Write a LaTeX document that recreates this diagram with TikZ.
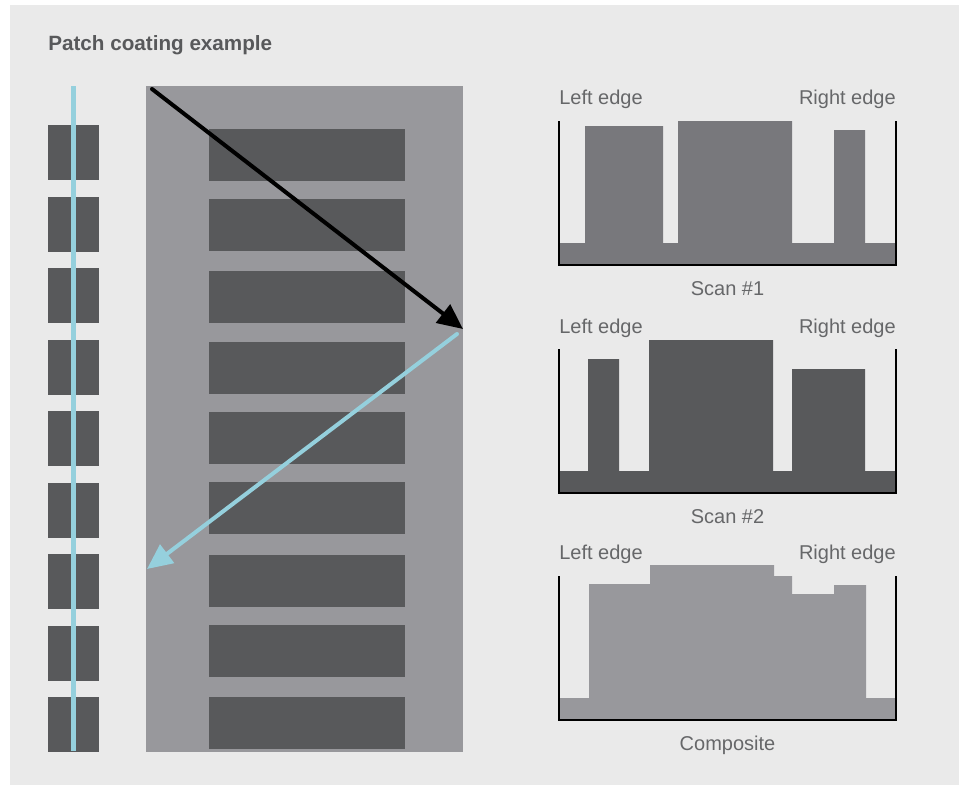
\documentclass[tikz,border=0pt]{standalone}
\usepackage{fontspec}
\setmainfont{Liberation Sans}
\usepackage{tikz}
\usetikzlibrary{arrows.meta,positioning}
\definecolor{pagegray}{HTML}{EAEAEA}
\definecolor{webgray}{HTML}{98989C}
\definecolor{patchdark}{HTML}{58595B}
\definecolor{scanmid}{HTML}{78787C}
\definecolor{lanecyan}{HTML}{95D0DD}
\definecolor{labelgray}{HTML}{666769}

\begin{document}
\begin{tikzpicture}[x=0.75pt, y=-0.75pt,
  label/.style={font=\fontsize{15}{18}\selectfont, text=labelgray, inner sep=0pt},
  axis/.style={draw=black, line width=1pt},
  travel/.style={line width=3pt, -{Triangle[length=19pt,width=17pt]}}]

  \useasboundingbox (0,0) rectangle (959,785);
  \fill[pagegray] (10,5) rectangle (959,785);

  \node[anchor=base west, inner sep=0pt, text=patchdark,
        font=\fontsize{15.5}{18}\selectfont\bfseries] (title) at (48,50)
    {Patch coating example};

  % left strip of patches with the lane line
  \foreach \t in {125,196.5,268,339.5,411,482.5,554,625.5,697}
    \fill[patchdark] (48,\t) rectangle (99,\t+55);
  \draw[lanecyan, line width=3.8pt] (73.5,86) -- (73.5,751);

  % coated web
  \fill[webgray] (146,86) coordinate (webNW) rectangle (463,752) coordinate (webSE);
  \foreach \t in {129,199,271,342,412,482,555,625,697}
    \fill[patchdark] (209,\t) rectangle (405,\t+52);

  \coordinate (scanstart) at (152,89);
  \coordinate (scanturn)  at (463,329);
  \coordinate (backstart) at (457,334);
  \coordinate (backend)   at (147,569);
  \draw[travel, black, line cap=round] (scanstart) -- (scanturn);
  \draw[travel, lanecyan, line cap=round] (backstart) -- (backend);

  % Scan #1
  \fill[scanmid] (559,265) -- (559,243) -- (585,243) -- (585,126) -- (663,126)
    -- (663,243) -- (678,243) -- (678,121) -- (792,121) -- (792,243) -- (834,243)
    -- (834,130) -- (865,130) -- (865,243) -- (896,243) -- (896,265) -- cycle;
  \draw[axis] (559,121) -- (559,265) -- (896,265) -- (896,121);
  \node[label, anchor=base west] (left1) at (559,104) {Left edge};
  \node[label, anchor=base east] (right1) at (896,104) {Right edge};
  \node[label, anchor=base] (scan1) at (727.5,295) {Scan \#1};

  % Scan #2
  \fill[patchdark] (559,493) -- (559,471) -- (588,471) -- (588,359) -- (619,359)
    -- (619,471) -- (649,471) -- (649,340) -- (773,340) -- (773,471) -- (792,471)
    -- (792,369) -- (865,369) -- (865,471) -- (896,471) -- (896,493) -- cycle;
  \draw[axis] (559,349) -- (559,493) -- (896,493) -- (896,349);
  \node[label, anchor=base west] (left2) at (559,333) {Left edge};
  \node[label, anchor=base east] (right2) at (896,333) {Right edge};
  \node[label, anchor=base] (scan2) at (727.5,523) {Scan \#2};

  % Composite
  \fill[webgray] (559,720) -- (559,698) -- (589,698) -- (589,584) -- (650,584)
    -- (650,565) -- (774,565) -- (774,576) -- (792,576) -- (792,594) -- (834,594)
    -- (834,585) -- (866,585) -- (866,698) -- (896,698) -- (896,720) -- cycle;
  \draw[axis] (559,576) -- (559,720) -- (896,720) -- (896,576);
  \node[label, anchor=base west] (left3) at (559,559) {Left edge};
  \node[label, anchor=base east] (right3) at (896,559) {Right edge};
  \node[label, anchor=base] (comp) at (727.5,750) {Composite};
\end{tikzpicture}
\end{document}
